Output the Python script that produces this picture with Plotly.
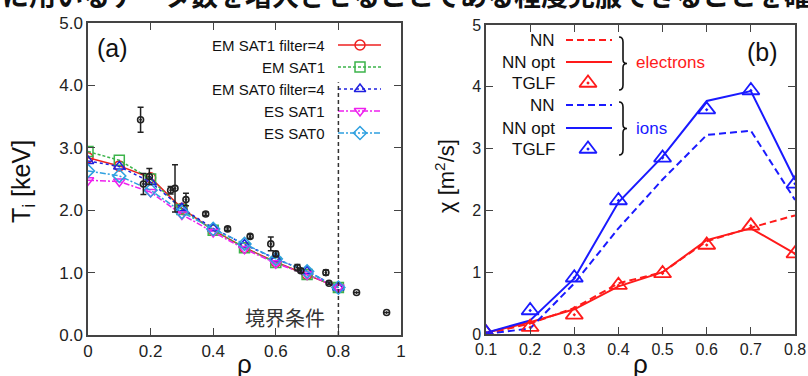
import plotly.graph_objects as go

W, H = 808, 376

# ---------------- data: panel (a) ----------------
rho_a = [0.0, 0.1, 0.2, 0.3, 0.4, 0.5, 0.6, 0.7, 0.8]
em_sat1_f4 = [2.84, 2.71, 2.52, 2.03, 1.68, 1.40, 1.17, 0.97, 0.76]
em_sat1 = [2.94, 2.80, 2.50, 2.01, 1.68, 1.40, 1.16, 0.97, 0.76]
em_sat0_f4 = [2.79, 2.70, 2.45, 2.03, 1.71, 1.45, 1.22, 1.02, 0.76]
es_sat1 = [2.48, 2.46, 2.29, 1.93, 1.65, 1.38, 1.15, 0.97, 0.76]
es_sat0 = [2.63, 2.55, 2.32, 1.97, 1.70, 1.46, 1.22, 1.02, 0.76]

exp_rho = [0.168, 0.177, 0.196, 0.264, 0.278, 0.313, 0.376, 0.446, 0.518,
           0.584, 0.600, 0.669, 0.680, 0.760, 0.770, 0.858, 0.954]
exp_ti = [3.45, 2.42, 2.54, 2.32, 2.35, 2.17, 1.94, 1.70, 1.58,
          1.46, 1.30, 1.08, 1.03, 1.00, 0.83, 0.68, 0.36]
exp_err = [0.20, 0.17, 0.13, 0.06, 0.38, 0.10, 0.03, 0.03, 0.03,
           0.11, 0.04, 0.05, 0.03, 0.04, 0.02, 0.0, 0.0]
boundary_rho = 0.8
boundary_top = 4.05

a_x_ticks = [0, 0.2, 0.4, 0.6, 0.8, 1.0]
a_x_text = ["0", "0.2", "0.4", "0.6", "0.8", "1"]
a_y_ticks = [0, 1, 2, 3, 4, 5]
a_y_text = ["0.0", "1.0", "2.0", "3.0", "4.0", "5.0"]

# ---------------- data: panel (b) ----------------
rho_b = [0.1, 0.2, 0.3, 0.4, 0.5, 0.6, 0.7, 0.8]
ion_nn = [0.00, 0.09, 0.82, 1.71, 2.50, 3.22, 3.29, 2.17]
ion_nnopt = [0.02, 0.22, 0.90, 2.13, 2.87, 3.77, 3.93, 2.49]
ion_tglf = [0.02, 0.38, 0.91, 2.16, 2.85, 3.63, 3.94, 2.43]
ele_nn = [0.00, 0.17, 0.42, 0.82, 1.00, 1.50, 1.72, 1.92]
ele_nnopt = [0.02, 0.19, 0.40, 0.77, 1.00, 1.52, 1.71, 1.30]
ele_tglf = [0.02, 0.11, 0.31, 0.79, 0.98, 1.44, 1.75, 1.30]

b_x_ticks = [0.1, 0.2, 0.3, 0.4, 0.5, 0.6, 0.7, 0.8]
b_x_text = ["0.1", "0.2", "0.3", "0.4", "0.5", "0.6", "0.7", "0.8"]
b_y_ticks = [0, 1, 2, 3, 4, 5]

heading = "に用いるデータ数を増大させることである程度克服できることを確認"

# ---------------- styles ----------------
RED, GREEN, BLUE, MAG, CYAN = "#ee2020", "#3cb44b", "#2020e0", "#ee22ee", "#2fa0e0"
BRED, BBLUE = "#ff1a1a", "#1a1aff"
FONT = "Liberation Sans, Arial, sans-serif"

series_a = [
    ("EM SAT1 filter=4", em_sat1_f4, RED, "solid", "circle-open"),
    ("EM SAT1", em_sat1, GREEN, "3px,2px", "square-open"),
    ("EM SAT0 filter=4", em_sat0_f4, BLUE, "dot", "triangle-up-open"),
    ("ES SAT1", es_sat1, MAG, "6px,2px,2px,2px", "triangle-down-open"),
    ("ES SAT0", es_sat0, CYAN, "6px,2px,2px,2px", "diamond-open"),
]

fig = go.Figure()

# panel (a) series
for name, ys, col, dash, sym in series_a:
    fig.add_trace(go.Scatter(x=rho_a, y=ys, mode="lines+markers", name=name,
                             line=dict(color=col, width=1.5, dash=dash),
                             marker=dict(symbol=sym, size=10, color=col, line=dict(width=1.5, color=col)),
                             xaxis="x", yaxis="y", showlegend=False))

# experimental points
fig.add_trace(go.Scatter(x=exp_rho, y=exp_ti, mode="markers",
                         marker=dict(symbol="circle-open-dot", size=6, color="#222",
                                     line=dict(width=1.6, color="#222")),
                         error_y=dict(type="data", array=exp_err, color="#222", thickness=1.5, width=3),
                         xaxis="x", yaxis="y", showlegend=False))

# panel (b) series
b_series = [
    (ele_nn, BRED, "dash"), (ele_nnopt, BRED, "solid"),
    (ion_nn, BBLUE, "dash"), (ion_nnopt, BBLUE, "solid"),
]
for ys, col, dash in b_series:
    fig.add_trace(go.Scatter(x=rho_b, y=ys, mode="lines",
                             line=dict(color=col, width=2, dash="7px,4px" if dash == "dash" else "solid"),
                             xaxis="x2", yaxis="y2", showlegend=False))
for ys, col in [(ele_tglf, BRED), (ion_tglf, BBLUE)]:
    fig.add_trace(go.Scatter(x=rho_b, y=ys, mode="markers",
                             marker=dict(symbol="triangle-up-open-dot", size=15, color=col,
                                         line=dict(width=1.8, color=col)),
                             xaxis="x2", yaxis="y2", showlegend=False))

# ---------------- legends (pixel overlay axis x3/y3) ----------------
leg_a_rows = [45, 67, 89, 111, 133]
leg_a_text_right = 327
leg_a_line = (338, 381)
leg_a_mark = 360
annotations = []
for (name, ys, col, dash, sym), yy in zip(series_a, leg_a_rows):
    fig.add_trace(go.Scatter(x=list(leg_a_line), y=[yy, yy], mode="lines",
                             line=dict(color=col, width=1.5, dash=dash),
                             xaxis="x3", yaxis="y3", showlegend=False, hoverinfo="skip"))
    fig.add_trace(go.Scatter(x=[leg_a_mark], y=[yy], mode="markers",
                             marker=dict(symbol=sym, size=10, color=col, line=dict(width=1.5, color=col)),
                             xaxis="x3", yaxis="y3", showlegend=False, hoverinfo="skip"))
    annotations.append(dict(x=leg_a_text_right, y=yy, xref="x3", yref="y3", text=name,
                            showarrow=False, xanchor="right", yanchor="middle",
                            font=dict(family=FONT, size=15, color="#111")))

leg_b_rows = [
    ("NN", 40, BRED, "dash", None), ("NN opt", 62, BRED, "solid", None), ("TGLF", 83, BRED, None, "tri"),
    ("NN", 105, BBLUE, "dash", None), ("NN opt", 128, BBLUE, "solid", None), ("TGLF", 149, BBLUE, None, "tri"),
]
for name, yy, col, dash, mk in leg_b_rows:
    if mk is None:
        fig.add_trace(go.Scatter(x=[566, 612], y=[yy, yy], mode="lines",
                                 line=dict(color=col, width=2, dash="7px,4px" if dash == "dash" else "solid"),
                                 xaxis="x3", yaxis="y3", showlegend=False, hoverinfo="skip"))
    else:
        fig.add_trace(go.Scatter(x=[588], y=[yy], mode="markers",
                                 marker=dict(symbol="triangle-up-open-dot", size=15, color=col,
                                             line=dict(width=1.8, color=col)),
                                 xaxis="x3", yaxis="y3", showlegend=False, hoverinfo="skip"))
    annotations.append(dict(x=557, y=yy, xref="x3", yref="y3", text=name, showarrow=False,
                            xanchor="right", yanchor="middle",
                            font=dict(family=FONT, size=17, color="#111")))

annotations += [
    dict(x=634, y=62, xref="x3", yref="y3", text="electrons", showarrow=False, xanchor="left",
         yanchor="middle", font=dict(family=FONT, size=17, color=BRED)),
    dict(x=634, y=128, xref="x3", yref="y3", text="ions", showarrow=False, xanchor="left",
         yanchor="middle", font=dict(family=FONT, size=17, color=BBLUE)),
    dict(x=762, y=52, xref="x3", yref="y3", text="(b)", showarrow=False,
         font=dict(family=FONT, size=25, color="#111")),
    dict(x=112, y=48, xref="x3", yref="y3", text="(a)", showarrow=False,
         font=dict(family=FONT, size=25, color="#111")),
    dict(x=327, y=317, xref="x3", yref="y3", text="境界条件", showarrow=False, xanchor="right",
         font=dict(family="Noto Sans CJK JP", size=20, color="#333")),
    dict(x=23, y=182, xref="x3", yref="y3", text="T<sub>i</sub> [keV]", showarrow=False, textangle=-90,
         font=dict(family=FONT, size=25, color="#111")),
    dict(x=244, y=364, xref="x3", yref="y3", text="ρ", showarrow=False,
         font=dict(family=FONT, size=26, color="#111")),
    dict(x=445, y=176, xref="x3", yref="y3", text="χ [m<sup>2</sup>/s]", showarrow=False, textangle=-90,
         font=dict(family=FONT, size=22, color="#111")),
    dict(x=640, y=364, xref="x3", yref="y3", text="ρ", showarrow=False,
         font=dict(family=FONT, size=26, color="#111")),
    # cut-off heading line of the surrounding document (upper half lies above the page)
    dict(x=0, y=(H + 6) / H, xref="paper", yref="paper", text="<b>" + heading + "</b>",
         showarrow=False, xanchor="left", yanchor="middle",
         font=dict(family="Noto Sans CJK JP", size=27, color="#111")),
]


def brace(x0, y0, y1, w=8):
    m = (y0 + y1) / 2
    xa = x0 + w / 2
    return (f"M {x0},{y0} Q {xa},{y0} {xa},{y0 + 5} L {xa},{m - 4} Q {xa},{m} {x0 + w},{m} "
            f"Q {xa},{m} {xa},{m + 4} L {xa},{y1 - 5} Q {xa},{y1} {x0},{y1}")


shapes = [
    dict(type="line", xref="x", yref="y", x0=boundary_rho, x1=boundary_rho, y0=0, y1=boundary_top,
         line=dict(color="#333", width=1.5, dash="4px,3px")),
    dict(type="path", xref="x3", yref="y3", path=brace(619, 37, 90), line=dict(color="#111", width=1.6)),
    dict(type="path", xref="x3", yref="y3", path=brace(619, 102, 155), line=dict(color="#111", width=1.6)),
]

axis_common = dict(showline=True, linecolor="#444", linewidth=1.5, mirror="ticks", ticks="inside",
                   ticklen=7, tickwidth=1.2, tickcolor="#444", showgrid=False, zeroline=False,
                   automargin=False, tickfont=dict(family=FONT, size=17, color="#222"))
axis_b = {**axis_common, "tickfont": dict(family=FONT, size=16, color="#222")}

fig.update_layout(
    width=W, height=H, margin=dict(l=0, r=0, t=0, b=0, autoexpand=False),
    paper_bgcolor="white", plot_bgcolor="rgba(0,0,0,0)",
    xaxis=dict(domain=[88 / W, 401 / W], range=[0, 1], tickvals=a_x_ticks, ticktext=a_x_text,
               anchor="y", **axis_common),
    yaxis=dict(domain=[(H - 335) / H, (H - 23) / H], range=[0, 5], tickvals=a_y_ticks, ticktext=a_y_text,
               anchor="x", **axis_common),
    xaxis2=dict(domain=[486 / W, 795 / W], range=[0.1, 0.8], tickvals=b_x_ticks, ticktext=b_x_text,
                anchor="y2", **axis_b),
    yaxis2=dict(domain=[(H - 334) / H, (H - 25) / H], range=[0, 5], tickvals=b_y_ticks,
                anchor="x2", **axis_b),
    xaxis3=dict(domain=[0, 1], range=[0, W], visible=False, anchor="y3", fixedrange=True, automargin=False),
    yaxis3=dict(domain=[0, 1], range=[H, 0], visible=False, anchor="x3", fixedrange=True, automargin=False),
    annotations=annotations, shapes=shapes, showlegend=False,
)

fig.write_html("out.html")
